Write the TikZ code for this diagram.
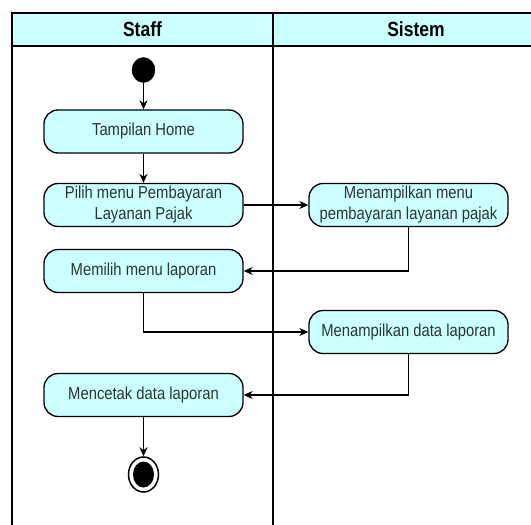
\documentclass[tikz,border=0pt]{standalone}
\usepackage{fontspec}
\usepackage{graphicx}
\setmainfont{Liberation Sans}
\usetikzlibrary{arrows.meta,shapes.geometric}
\definecolor{lanefill}{HTML}{CCFFFF}
\definecolor{txt}{HTML}{2B3535}
\newcommand{\vtxt}[1]{\scalebox{1}[1.17]{\begin{tabular}{@{}c@{}}#1\end{tabular}}}
\tikzset{
  act/.style={draw=black, line width=1.3pt, fill=lanefill, rounded corners=14pt,
    minimum width=199pt, minimum height=43pt, align=center, text=txt,
    font=\fontsize{14.8}{18.2}\selectfont, inner sep=0pt},
  flow/.style={line width=1.3pt, -{Stealth[length=9pt,width=8pt]}},
  lane/.style={line width=1.8pt},
  hdr/.style={font=\bfseries\fontsize{17.5}{20}\selectfont, text=black, inner sep=0pt}
}
\begin{document}
\begin{tikzpicture}[x=1pt,y=-1pt]
\useasboundingbox (0,0) rectangle (531,525);
% lanes
\fill[lanefill] (12,13) rectangle (531,46);
\draw[lane] (531,13) -- (12,13) -- (12,525);
\draw[lane] (12,46) -- (531,46);
\draw[lane] (273,13) -- (273,525);
\node[hdr] (hstaff) at (142.5,32) {\vtxt{Staff}};
\node[hdr] (hsistem) at (416,32) {\vtxt{Sistem}};
% nodes
\node[ellipse, fill=black, draw=black, minimum width=23pt, minimum height=25pt, inner sep=0pt] (start) at (143.5,70) {};
\node[act] (home) at (143.5,131.5) {\vtxt{Tampilan Home}};
\node[act] (pilih) at (143.5,205) {\vtxt{Pilih menu Pembayaran\\Layanan Pajak}};
\node[act] (menu) at (408.5,205) {\vtxt{Menampilkan menu\\pembayaran layanan pajak}};
\node[act] (memilih) at (143.5,271) {\vtxt{Memilih menu laporan}};
\node[act] (data) at (408.5,332) {\vtxt{Menampilkan data laporan}};
\node[act] (cetak) at (143.5,395) {\vtxt{Mencetak data laporan}};
\node[ellipse, draw=black, fill=white, line width=1.5pt, minimum width=30pt, minimum height=35pt, inner sep=0pt] (end) at (143.5,474.5) {};
\fill[black] (end.center) ellipse [x radius=10.5pt, y radius=13pt];
% flows
\draw[flow] (start) -- (home);
\draw[flow] (home) -- (pilih);
\draw[flow] (pilih) -- (menu);
\draw[flow] (menu.south) |- (memilih.east);
\draw[flow] (memilih.south) |- (data.west);
\draw[flow] (data.south) |- (cetak.east);
\draw[flow] (cetak) -- (end);
\end{tikzpicture}
\end{document}
